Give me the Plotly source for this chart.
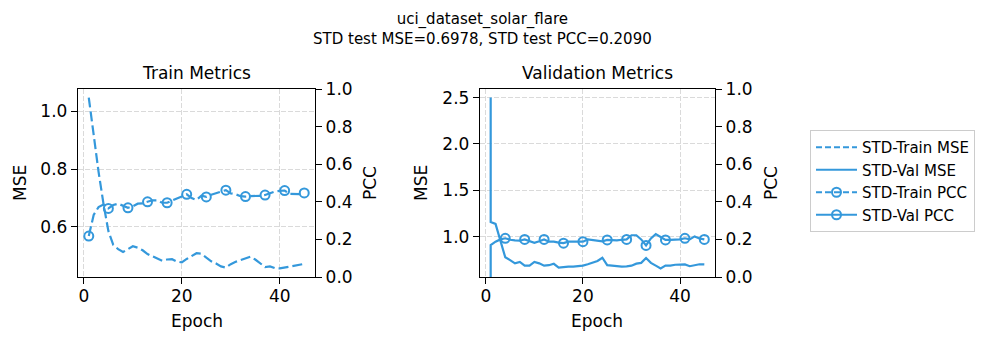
import plotly.graph_objects as go

# ---- data ----
train_epochs = list(range(1, 46))
train_mse = [1.048, 0.91, 0.79, 0.68, 0.585, 0.537, 0.522, 0.512, 0.522, 0.532,
             0.527, 0.518, 0.505, 0.497, 0.49, 0.482, 0.486, 0.487, 0.479, 0.476,
             0.488, 0.498, 0.508, 0.506, 0.494, 0.48, 0.472, 0.462, 0.458, 0.47,
             0.478, 0.484, 0.49, 0.496, 0.486, 0.472, 0.46, 0.462, 0.456, 0.455,
             0.458, 0.462, 0.465, 0.468, 0.471]
train_pcc = [0.218, 0.33, 0.372, 0.385, 0.365, 0.383, 0.39, 0.38, 0.368, 0.376,
             0.39, 0.392, 0.4, 0.408, 0.408, 0.395, 0.395, 0.408, 0.418, 0.428,
             0.44, 0.42, 0.41, 0.432, 0.426, 0.438, 0.446, 0.456, 0.462, 0.445,
             0.44, 0.43, 0.428, 0.43, 0.43, 0.432, 0.436, 0.445, 0.455, 0.458,
             0.46, 0.442, 0.44, 0.441, 0.447]

val_epochs = [1, 1] + list(range(2, 22)) + list(range(23, 46))
val_mse = [2.5, 1.16, 1.14, 0.95, 0.78, 0.75, 0.715, 0.73, 0.69, 0.69,
           0.73, 0.715, 0.69, 0.695, 0.71, 0.668, 0.675, 0.68, 0.68, 0.685,
           0.69, 0.705, 0.74, 0.775, 0.695, 0.69, 0.683, 0.68, 0.683, 0.69,
           0.712, 0.72, 0.772, 0.72, 0.69, 0.66, 0.69, 0.69, 0.7, 0.703,
           0.703, 0.684, 0.692, 0.705, 0.703]
val_pcc = [-0.1, 0.17, 0.188, 0.2, 0.206, 0.198, 0.195, 0.193, 0.2, 0.193,
           0.182, 0.19, 0.2, 0.188, 0.188, 0.183, 0.18, 0.188, 0.188, 0.19,
           0.188, 0.2, 0.195, 0.19, 0.197, 0.195, 0.195, 0.198, 0.2, 0.222,
           0.222, 0.2, 0.168, 0.205, 0.228, 0.213, 0.197, 0.197, 0.197, 0.2,
           0.206, 0.2, 0.216, 0.205, 0.2]

dataset_name = "uci_dataset_solar_flare"
test_mse = 0.6978
test_pcc = 0.2090

COLOR = "#3498db"
FONT = "DejaVu Sans"
W, H = 996, 344
PAGE_OFFSET = 8  # default body margin of the html page
MARK_EVERY = 4


def px_x(v):
    return (v - PAGE_OFFSET) / W


def px_y(v):
    return 1 - (v - PAGE_OFFSET) / H


def padded(vals, frac=0.05):
    lo, hi = min(vals), max(vals)
    pad = (hi - lo) * frac
    return [lo - pad, hi + pad]


fig = go.Figure()

dash = "10px,4px"
line_kw = dict(color=COLOR, width=2.2)
mk = dict(symbol="circle-open", size=9, color=COLOR, line=dict(width=2, color=COLOR))

# train panel
fig.add_trace(go.Scatter(x=train_epochs, y=train_mse, mode="lines",
                         line=dict(**line_kw, dash=dash), xaxis="x", yaxis="y", showlegend=False))
fig.add_trace(go.Scatter(x=train_epochs, y=train_pcc, mode="lines",
                         line=dict(**line_kw, dash=dash), xaxis="x", yaxis="y2", showlegend=False))
fig.add_trace(go.Scatter(x=train_epochs[::MARK_EVERY], y=train_pcc[::MARK_EVERY], mode="markers",
                         marker=mk, xaxis="x", yaxis="y2", showlegend=False))

# validation panel
fig.add_trace(go.Scatter(x=val_epochs, y=val_mse, mode="lines",
                         line=line_kw, xaxis="x2", yaxis="y3", showlegend=False))
fig.add_trace(go.Scatter(x=val_epochs, y=val_pcc, mode="lines",
                         line=line_kw, xaxis="x2", yaxis="y4", showlegend=False))
fig.add_trace(go.Scatter(x=val_epochs[::MARK_EVERY], y=val_pcc[::MARK_EVERY], mode="markers",
                         marker=mk, xaxis="x2", yaxis="y4", showlegend=False))

# legend entries
fig.add_trace(go.Scatter(x=[None], y=[None], mode="lines", name="STD-Train MSE",
                         line=dict(**line_kw, dash="6px,3px"), xaxis="x", yaxis="y"))
fig.add_trace(go.Scatter(x=[None], y=[None], mode="lines", name="STD-Val MSE",
                         line=line_kw, xaxis="x", yaxis="y"))
fig.add_trace(go.Scatter(x=[None], y=[None], mode="lines+markers", name="STD-Train PCC",
                         line=dict(**line_kw, dash="6px,3px"), marker=mk, xaxis="x", yaxis="y"))
fig.add_trace(go.Scatter(x=[None], y=[None], mode="lines+markers", name="STD-Val PCC",
                         line=line_kw, marker=mk, xaxis="x", yaxis="y"))

tickfont = dict(family=FONT, size=17, color="black")
axis_common = dict(showline=True, linecolor="black", linewidth=1.4, ticks="outside",
                   ticklen=6, tickwidth=1.4, tickcolor="black", tickfont=tickfont,
                   zeroline=False, automargin=False)
grid = dict(showgrid=True, gridcolor="#dadada", gridwidth=1.2, griddash="5px,2px")

x_range = padded(train_epochs)
left_dom = [px_x(78), px_x(315)]
right_dom = [px_x(480), px_x(715)]
y_dom = [px_y(277), px_y(89)]

fig.update_layout(
    width=W, height=H,
    margin=dict(l=0, r=0, t=0, b=0, autoexpand=False),
    paper_bgcolor="white", plot_bgcolor="white",
    font=dict(family=FONT, color="black"),
    xaxis=dict(domain=left_dom, range=x_range, tickvals=[0, 20, 40], anchor="y",
               mirror=True, ticklabelstandoff=-3, **axis_common, **grid),
    yaxis=dict(domain=y_dom, range=padded(train_mse), dtick=0.2, tick0=0, tickformat=".1f",
               anchor="x", **axis_common, **grid),
    yaxis2=dict(range=[0, 1], dtick=0.2, tickformat=".1f", overlaying="y", side="right",
                anchor="x", showgrid=False, **axis_common),
    xaxis2=dict(domain=right_dom, range=padded(val_epochs), tickvals=[0, 20, 40], anchor="y3",
                mirror=True, ticklabelstandoff=-3, **axis_common, **grid),
    yaxis3=dict(domain=y_dom, range=padded(val_mse), dtick=0.5, tick0=0, tickformat=".1f",
                anchor="x2", **axis_common, **grid),
    yaxis4=dict(range=[0, 1], dtick=0.2, tickformat=".1f", overlaying="y3", side="right",
                anchor="x2", showgrid=False, **axis_common),
    legend=dict(x=px_x(810), y=px_y(130), xanchor="left", yanchor="top",
                bordercolor="#cccccc", borderwidth=1, bgcolor="white",
                font=dict(family=FONT, size=15, color="black"),
                itemwidth=41, tracegroupgap=0),
)

label_font = dict(family=FONT, size=17, color="black")
annos = [
    dict(text=f"{dataset_name}<br>STD test MSE={test_mse:.4f}, STD test PCC={test_pcc:.4f}",
         x=px_x(482), y=px_y(29), font=dict(family=FONT, size=15, color="black")),
    dict(text="Train Metrics", x=px_x(196.5), y=px_y(73), font=label_font),
    dict(text="Validation Metrics", x=px_x(597.5), y=px_y(73), font=label_font),
    dict(text="Epoch", x=px_x(196.5), y=px_y(321), font=label_font),
    dict(text="Epoch", x=px_x(597), y=px_y(321), font=label_font),
    dict(text="MSE", x=px_x(20), y=px_y(183), font=label_font, textangle=-90),
    dict(text="PCC", x=px_x(370), y=px_y(183), font=label_font, textangle=-90),
    dict(text="MSE", x=px_x(421), y=px_y(183), font=label_font, textangle=-90),
    dict(text="PCC", x=px_x(771), y=px_y(183), font=label_font, textangle=-90),
]
for a in annos:
    fig.add_annotation(xref="paper", yref="paper", showarrow=False,
                       xanchor="center", yanchor="middle", **a)

fig.write_html("out.html")
